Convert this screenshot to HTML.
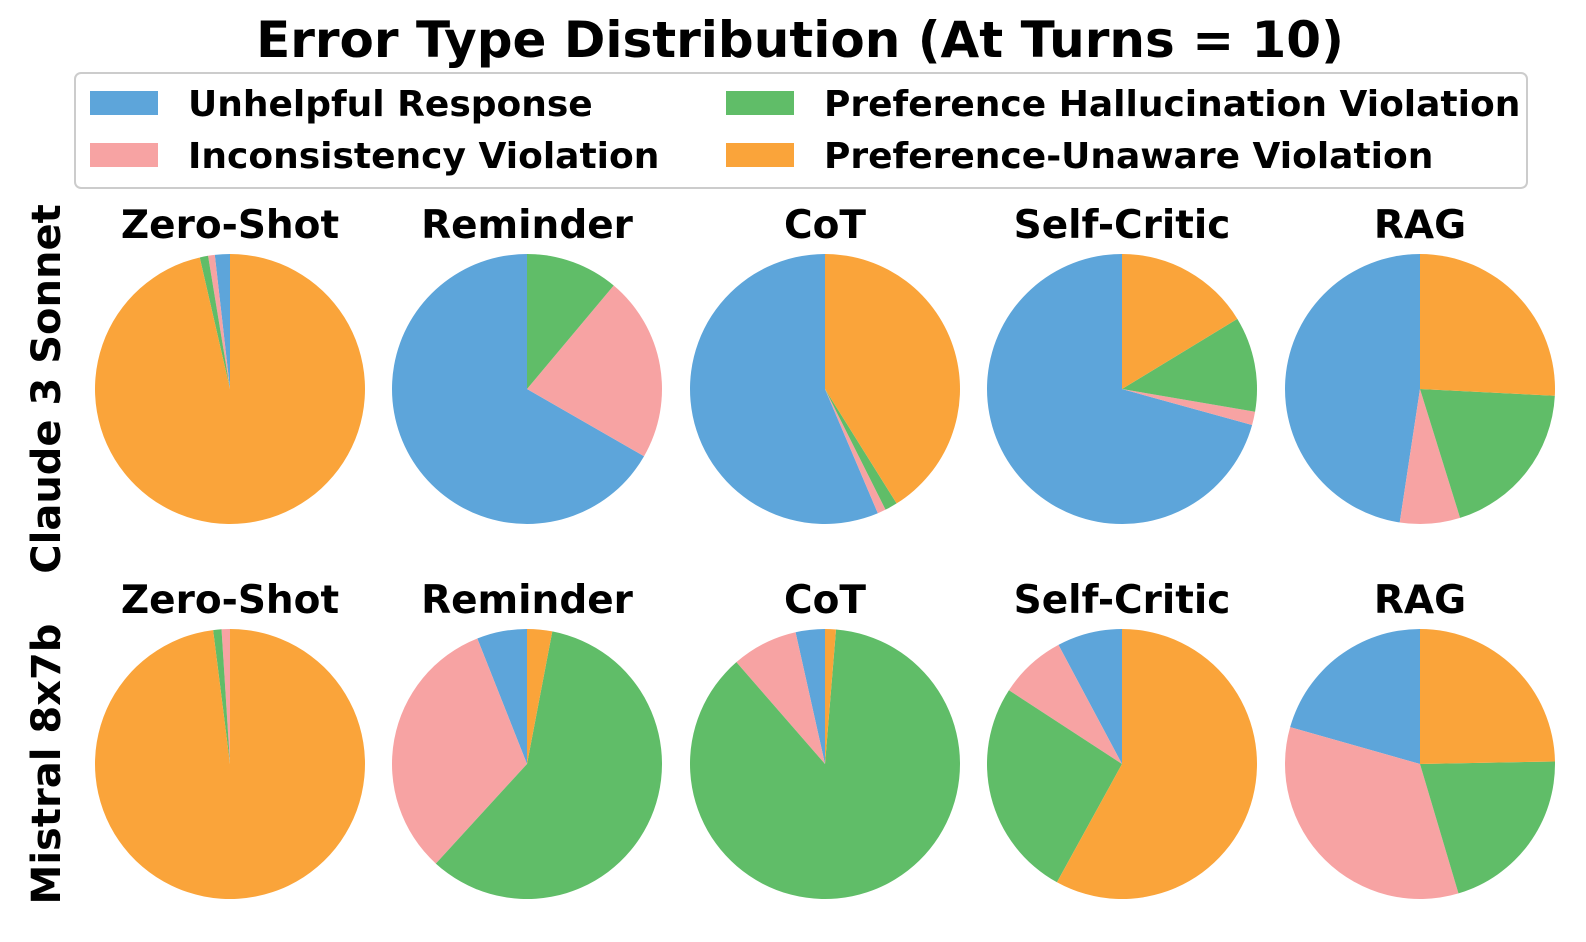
<!DOCTYPE html>
<html><head><meta charset="utf-8"><style>
body{margin:0;background:#fff;}
svg{display:block;font-family:"DejaVu Sans","Liberation Sans",sans-serif;font-weight:bold;}
</style></head><body>
<svg id="chart" width="1586" height="942" viewBox="0 0 1586 942">
<text x="800" y="57" text-anchor="middle" font-size="50">Error Type Distribution (At Turns = 10)</text>
<rect x="75" y="73" width="1452" height="115" rx="6" fill="#fff" stroke="#ccc" stroke-width="2"/>
<g id="legend"></g>
<g id="pies"></g>
<text transform="translate(60,389) rotate(-90)" text-anchor="middle" font-size="40">Claude 3 Sonnet</text>
<text transform="translate(60,764) rotate(-90)" text-anchor="middle" font-size="40">Mistral 8x7b</text>
</svg>
<script>
const categories = ["Unhelpful Response","Inconsistency Violation","Preference Hallucination Violation","Preference-Unaware Violation"];
const colors = ["#5DA5DA","#F7A3A3","#60BD68","#FAA43A"];
const methods = ["Zero-Shot","Reminder","CoT","Self-Critic","RAG"];
const models = ["Claude 3 Sonnet","Mistral 8x7b"];
const claudeValues = [
  [1.8,0.8,1.0,96.4],
  [66.7,22.2,11.1,0],
  [56.4,1.0,1.5,41.1],
  [70.7,1.6,11.4,16.3],
  [47.6,7.2,19.4,25.8]
];
const mistralValues = [
  [0,1.0,1.0,98.0],
  [6.0,32.2,58.8,3.0],
  [3.5,7.9,87.3,1.3],
  [7.8,8.0,26.2,58.0],
  [20.6,34.0,20.7,24.7]
];
const NS="http://www.w3.org/2000/svg";
const leg=document.getElementById('legend');
const legPos=[[90,103],[90,155],[726,103],[726,155]];
categories.forEach((c,i)=>{
  const g=document.createElementNS(NS,'g');
  
  
  const r=document.createElementNS(NS,'rect');
  r.setAttribute('x',legPos[i][0]);r.setAttribute('y',legPos[i][1]-12);
  r.setAttribute('width',68);r.setAttribute('height',24);r.setAttribute('fill',colors[i]);
  const t=document.createElementNS(NS,'text');
  t.setAttribute('x',legPos[i][0]+98);t.setAttribute('y',legPos[i][1]+13);
  t.setAttribute('font-size',36);t.textContent=c;
  g.appendChild(r);g.appendChild(t);leg.appendChild(g);
});
const pies=document.getElementById('pies');
const cx=[230,527,825,1122,1420], cy=[389,764], R=135;
[claudeValues,mistralValues].forEach((rowVals,ri)=>{
  rowVals.forEach((vals,mi)=>{
    const g=document.createElementNS(NS,'g');
    
    
    const tt=document.createElementNS(NS,'text');
    tt.setAttribute('x',cx[mi]);tt.setAttribute('y',cy[ri]-151);
    tt.setAttribute('text-anchor','middle');tt.setAttribute('font-size',39);
    tt.textContent=methods[mi];
    
    
    g.appendChild(tt);
    const tot=vals.reduce((a,b)=>a+b,0);
    let a=90;
    vals.forEach((v,k)=>{
      if(v<=0)return;
      const sweep=v/tot*360;
      const a2=a+sweep;
      const x=cx[mi],y=cy[ri];
      const p1=[x+R*Math.cos(a*Math.PI/180),y-R*Math.sin(a*Math.PI/180)];
      const p2=[x+R*Math.cos(a2*Math.PI/180),y-R*Math.sin(a2*Math.PI/180)];
      const path=document.createElementNS(NS,'path');
      let d;
      if(sweep>=359.99){d=`M${x-R},${y}A${R},${R} 0 1 0 ${x+R},${y}A${R},${R} 0 1 0 ${x-R},${y}Z`;}
      else d=`M${x},${y}L${p1[0]},${p1[1]}A${R},${R} 0 ${sweep>180?1:0} 0 ${p2[0]},${p2[1]}Z`;
      path.setAttribute('d',d);path.setAttribute('fill',colors[k]);
      
      
      g.appendChild(path);
      a=a2;
    });
    pies.appendChild(g);
  });
});
</script>
</body></html>
